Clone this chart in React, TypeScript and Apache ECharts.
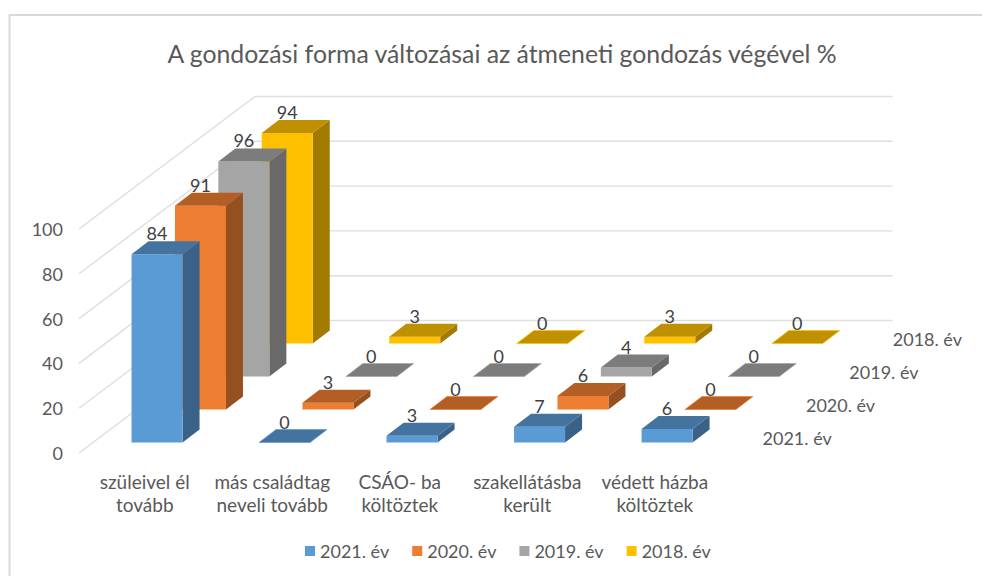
import React, { useEffect, useRef } from "react";
import * as echarts from "echarts";

const titleText = "A gondozási forma változásai az átmeneti gondozás végével %";
const categories = [
  "szüleivel él\ntovább",
  "más családtag\nneveli tovább",
  "CSÁO- ba\nköltöztek",
  "szakellátásba\nkerült",
  "védett házba\nköltöztek",
];
const yearNames = ["2021. év", "2020. év", "2019. év", "2018. év"];
const values2021 = [84, 0, 3, 7, 6];
const values2020 = [91, 3, 0, 6, 0];
const values2019 = [96, 0, 0, 4, 0];
const values2018 = [94, 3, 0, 3, 0];
const yearValues = [values2021, values2020, values2019, values2018];
const yTicks = [0, 20, 40, 60, 80, 100];

const frontColors = ["#5B9BD5", "#ED7D31", "#A5A5A5", "#FFC000"];
const topColors = ["#44739F", "#B25E25", "#7C7C7C", "#BF9000"];
const sideColors = ["#3A6289", "#964F1F", "#696969", "#A27A00"];

const FONT = "Lato, Carlito, sans-serif";
const TEXT = "#595959";
const GRID = "#dedede";
const DEPTH_X = 176;
const DEPTH_Y = -132.5;
const BAR_DX = 17;
const BAR_DY = -13;
const rowDx = (i: number) => 14.3 + 43.4 * i;
const rowDy = (i: number) => -10.5 - 33 * i;

function barSeries(row: number) {
  return {
    type: "custom",
    name: yearNames[row],
    itemStyle: { color: frontColors[row] },
    encode: { x: 0, y: 1 },
    data: yearValues[row].map((v, i) => [i, v]),
    silent: true,
    renderItem: (_p: any, api: any) => {
      const idx = api.value(0);
      const v = api.value(1);
      const top = api.coord([idx, v]);
      const base = api.coord([idx, 0]);
      const w = api.size([1, 0])[0] * 0.4;
      const x0 = top[0] + rowDx(row) - w / 2;
      const x1 = x0 + w;
      const yT = top[1] + rowDy(row);
      const yB = base[1] + rowDy(row);
      const children: any[] = [];
      if (v > 0) {
        children.push({
          type: "polygon",
          shape: { points: [[x1, yT], [x1 + BAR_DX, yT + BAR_DY], [x1 + BAR_DX, yB + BAR_DY], [x1, yB]] },
          style: { fill: sideColors[row] },
        });
        children.push({
          type: "polygon",
          shape: { points: [[x0, yT], [x1, yT], [x1, yB], [x0, yB]] },
          style: { fill: frontColors[row] },
        });
      }
      children.push({
        type: "polygon",
        shape: { points: [[x0, yT], [x0 + BAR_DX, yT + BAR_DY], [x1 + BAR_DX, yT + BAR_DY], [x1, yT]] },
        style: { fill: topColors[row], stroke: frontColors[row], lineWidth: v > 0 ? 0 : 0.7 },
      });
      children.push({
        type: "text",
        style: {
          text: String(v),
          x: (x0 + x1) / 2,
          y: yT - 21,
          align: "center",
          verticalAlign: "middle",
          fill: "#404040",
          font: `18px ${FONT}`,
        },
      });
      if (idx === categories.length - 1) {
        children.push({
          type: "text",
          style: {
            text: yearNames[row],
            x: x1 + 70,
            y: yB - 5,
            align: "left",
            verticalAlign: "middle",
            fill: TEXT,
            font: `18px ${FONT}`,
          },
        });
      }
      return { type: "group", children };
    },
  };
}

const wallSeries = {
  type: "custom",
  name: "wall",
  silent: true,
  encode: { x: 0, y: 1 },
  data: yTicks.map((t) => [0, t]),
  renderItem: (p: any, api: any) => {
    const y = api.coord([0, api.value(1)])[1];
    const cs = p.coordSys;
    return {
      type: "polyline",
      shape: {
        points: [
          [cs.x, y],
          [cs.x + DEPTH_X, y + DEPTH_Y],
          [cs.x + DEPTH_X + cs.width, y + DEPTH_Y],
        ],
      },
      style: { fill: "none", stroke: GRID, lineWidth: 1.4 },
    };
  },
};

export default function App() {
  const ref = useRef<HTMLDivElement>(null);
  useEffect(() => {
    const chart = echarts.init(ref.current!, null, { renderer: "svg" });
    chart.setOption({
      animation: false,
      backgroundColor: "#ffffff",
      title: {
        text: titleText,
        left: 497,
        top: 36,
        textAlign: "center",
        textStyle: { fontFamily: FONT, fontSize: 24.8, fontWeight: 400, color: TEXT },
      },
      legend: {
        data: yearNames,
        left: 300,
        top: 537,
        icon: "rect",
        itemWidth: 10,
        itemHeight: 10,
        itemGap: 23,
        textStyle: { fontFamily: FONT, fontSize: 18, color: TEXT },
        selectedMode: false,
      },
      grid: { left: 79, top: 229, width: 637.5, height: 224 },
      xAxis: {
        type: "category",
        data: categories,
        axisLine: { show: false },
        axisTick: { show: false },
        axisLabel: { fontFamily: FONT, fontSize: 19, color: TEXT, margin: 17, lineHeight: 23, interval: 0, padding: [0, 0, 0, 4] },
      },
      yAxis: {
        type: "value",
        min: 0,
        max: 100,
        interval: 20,
        axisLine: { show: false },
        axisTick: { show: false },
        splitLine: { show: false },
        axisLabel: { fontFamily: FONT, fontSize: 18, color: TEXT, margin: 16 },
      },
      graphic: [
        {
          type: "polyline",
          silent: true,
          shape: { points: [[9.5, 576], [9.5, 15], [982, 15]] },
          style: { fill: "none", stroke: "#d9d9d9", lineWidth: 2 },
        },
      ],
      series: [wallSeries, barSeries(3), barSeries(2), barSeries(1), barSeries(0)],
    });
    return () => chart.dispose();
  }, []);
  return <div ref={ref} style={{ position: "absolute", left: 0, top: 0, width: 982, height: 576 }} />;
}
